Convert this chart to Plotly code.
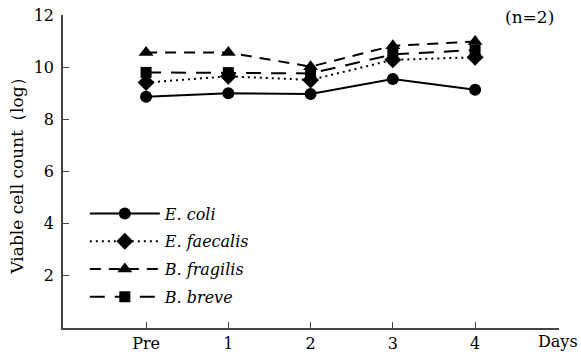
import plotly.graph_objects as go

days = ["Pre", "1", "2", "3", "4"]
x_pos = [0, 1, 2, 3, 4]
e_coli = [8.87, 9.0, 8.97, 9.55, 9.13]
e_faecalis = [9.41, 9.65, 9.51, 10.28, 10.38]
b_fragilis = [10.56, 10.56, 10.02, 10.82, 10.98]
b_breve = [9.8, 9.79, 9.76, 10.49, 10.66]
y_ticks = [2, 4, 6, 8, 10, 12]

FONT = "DejaVu Serif"

series = [
    ("<i>E. coli</i>", e_coli, "solid", "circle", 12),
    ("<i>E. faecalis</i>", e_faecalis, "2px,4px", "diamond", 13),
    ("<i>B. fragilis</i>", b_fragilis, "11px,8px", "triangle-up", 13),
    ("<i>B. breve</i>", b_breve, "15px,10px", "square", 11),
]

fig = go.Figure()
for i, (name, vals, dash, sym, size) in enumerate(series):
    fig.add_trace(go.Scatter(
        x=x_pos, y=vals, name=name, mode="lines+markers",
        legendgroup=str(i),
        line=dict(color="black", width=2, dash=dash),
        marker=dict(symbol=sym, size=size, color="black"),
    ))

fig.update_layout(
    width=581, height=358,
    margin=dict(l=63, r=22, t=15, b=30, autoexpand=False),
    paper_bgcolor="white", plot_bgcolor="white",
    font=dict(family=FONT, size=16, color="black"),
    showlegend=True,
    legend=dict(x=0.044, y=0.42, xanchor="left", yanchor="top",
                bgcolor="rgba(0,0,0,0)", font=dict(size=16),
                tracegroupgap=4, itemwidth=70),
    xaxis=dict(range=[-1.01, 5.02], tickvals=x_pos, ticktext=days,
               showgrid=False, zeroline=False, showline=True,
               linecolor="#444", linewidth=1.5,
               ticks="inside", ticklen=6, tickcolor="#444",
               tickfont=dict(size=16), automargin=False),
    yaxis=dict(range=[0, 12], tickvals=y_ticks,
               showgrid=False, zeroline=False, showline=True,
               linecolor="#444", linewidth=1.5,
               ticks="inside", ticklen=6, tickcolor="#444",
               tickfont=dict(size=16), automargin=False,
               ticklabelstandoff=4,
               title=dict(text="Viable cell count（log）", font=dict(size=17), standoff=6)),
    annotations=[
        dict(text="Days", xref="paper", yref="paper", x=1.0, y=0, xanchor="right",
             yanchor="top", xshift=21, yshift=-2, showarrow=False, font=dict(size=16)),
        dict(text="(n=2)", xref="paper", yref="paper", x=1.0, y=1.0, xanchor="right",
             yanchor="middle", xshift=-3, yshift=-2, showarrow=False, font=dict(size=17)),
    ],
)

# remove the browser's default 8px body margin so the figure fills the window
fig.write_html("out.html", config={"displayModeBar": False},
               post_script="document.body.style.margin='0px';")
